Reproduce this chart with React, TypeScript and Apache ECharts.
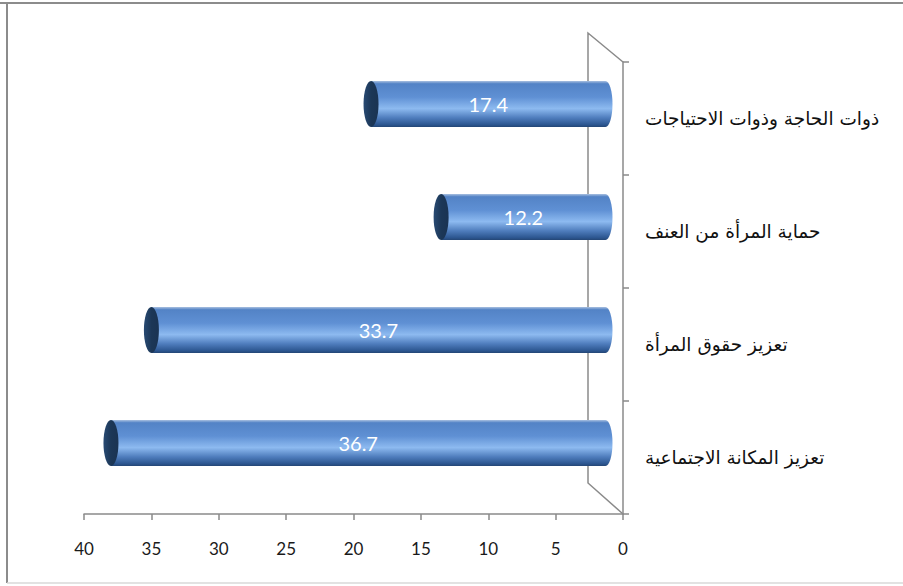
import React, { useEffect, useRef } from "react";
import * as echarts from "echarts";

const categories = [
  "تعزيز المكانة الاجتماعية",
  "تعزيز حقوق المرأة",
  "حماية المرأة من العنف",
  "ذوات الحاجة وذوات الاحتياجات",
];
const values = [36.7, 33.7, 12.2, 17.4];
const xTicks = { min: 0, max: 40, interval: 5 };

const bodyGradient = () =>
  new echarts.graphic.LinearGradient(0, 0, 0, 1, [
    { offset: 0, color: "#a9c0e0" },
    { offset: 0.06, color: "#5383c6" },
    { offset: 0.35, color: "#5f90d4" },
    { offset: 0.6, color: "#8dbaf0" },
    { offset: 0.8, color: "#4f7dbd" },
    { offset: 0.95, color: "#2c5690" },
    { offset: 1, color: "#244675" },
  ]);

export default function App() {
  const ref = useRef<HTMLDivElement>(null);
  useEffect(() => {
    if (!ref.current) return;
    const chart = echarts.init(ref.current, null, { renderer: "svg" });
    const data = values.map((v, i) => [v, i]);
    const depthX = -17.5;
    const depthY = -14.5;
    const barH = 46;
    chart.setOption({
      animation: false,
      backgroundColor: "#ffffff",
      grid: { left: 84, right: 280, top: 62, bottom: 72 },
      xAxis: {
        type: "value",
        inverse: true,
        min: xTicks.min,
        max: xTicks.max,
        interval: xTicks.interval,
        axisLine: { show: true, lineStyle: { color: "#8a8a8a", width: 1.5 } },
        axisTick: { show: true, length: 6, lineStyle: { color: "#8a8a8a", width: 1.5 } },
        axisLabel: { fontSize: 17, color: "#1a1a1a", margin: 26, fontFamily: "Lato" },
        splitLine: { show: false },
      },
      yAxis: {
        type: "category",
        position: "right",
        data: categories,
        axisLine: { show: true, lineStyle: { color: "#8a8a8a", width: 1.5 } },
        axisTick: { show: true, length: 6, lineStyle: { color: "#8a8a8a", width: 1.5 } },
        axisLabel: { fontSize: 18.5, color: "#111", margin: 22, fontFamily: "DejaVu Sans" },
      },
      graphic: [
        { type: "line", shape: { x1: 0, y1: 3, x2: 903, y2: 3 }, style: { stroke: "#8c8c8c", lineWidth: 2 } },
        { type: "line", shape: { x1: 7, y1: 3, x2: 7, y2: 583 }, style: { stroke: "#8c8c8c", lineWidth: 2 } },
        { type: "line", shape: { x1: 7, y1: 583, x2: 903, y2: 583 }, style: { stroke: "#d8d8d8", lineWidth: 1.5 } },
        { type: "polyline", shape: { points: [[623, 62], [588, 33], [588, 483], [623, 514]] }, style: { stroke: "#8a8a8a", lineWidth: 1.5, fill: "none" } },
      ],
      series: [
        {
          type: "custom",
          data,
          encode: { x: 0, y: 1 },
          renderItem: (params: any, api: any) => {
            const v = api.value(0);
            const c = api.value(1);
            const zero = api.coord([0, c]);
            const end = api.coord([v, c]);
            const xr = zero[0] + depthX;
            const xl = end[0] + depthX;
            const cy = zero[1] + depthY;
            const top = cy - barH / 2;
            return {
              type: "group",
              children: [
                {
                  type: "ellipse",
                  shape: { cx: xr, cy, rx: 7, ry: barH / 2 },
                  style: { fill: bodyGradient() },
                },
                {
                  type: "rect",
                  shape: { x: xl, y: top, width: xr - xl, height: barH },
                  style: { fill: bodyGradient() },
                },
                {
                  type: "ellipse",
                  shape: { cx: xl, cy, rx: 7.5, ry: barH / 2 },
                  style: {
                    fill: new echarts.graphic.LinearGradient(0, 0, 1, 0, [
                      { offset: 0, color: "#284a73" },
                      { offset: 0.5, color: "#1c3757" },
                      { offset: 1, color: "#1a3352" },
                    ]),
                  },
                },
                {
                  type: "text",
                  style: {
                    x: (xl + xr) / 2,
                    y: cy,
                    text: String(v),
                    fill: "#ffffff",
                    fontSize: 20,
                    fontFamily: "Lato",
                    align: "center",
                    verticalAlign: "middle",
                  },
                },
              ],
            };
          },
        },
      ],
    });
    return () => chart.dispose();
  }, []);
  return (
    <div
      ref={ref}
      style={{ position: "fixed", left: 0, top: 0, width: 903, height: 586 }}
    />
  );
}
